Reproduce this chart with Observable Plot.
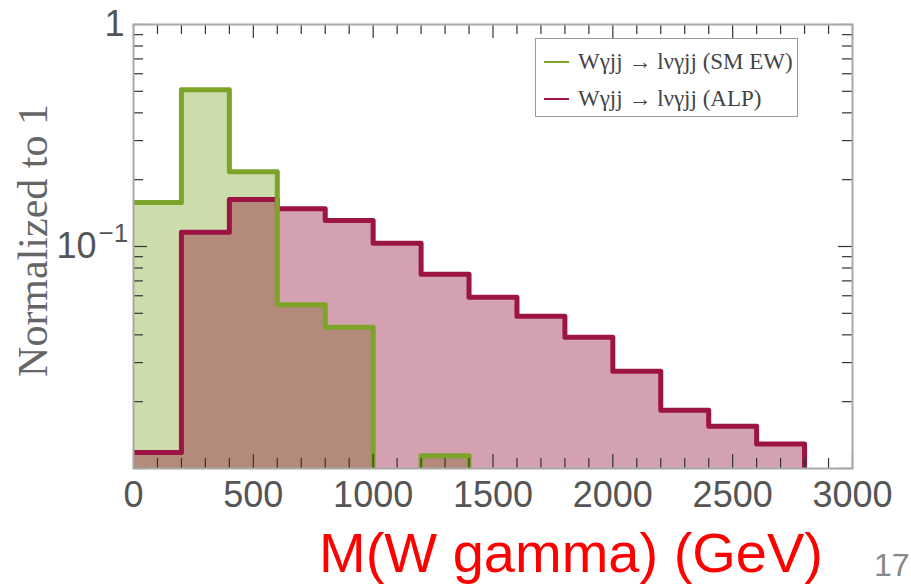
<!DOCTYPE html>
<html>
<head>
<meta charset="utf-8">
<script src="https://cdn.jsdelivr.net/npm/d3@7"></script>
<script src="https://cdn.jsdelivr.net/npm/@observablehq/plot@0.6"></script>
<style>
  html, body { margin: 0; padding: 0; background: #fff; }
  #wrap { position: relative; width: 911px; height: 586px; overflow: hidden; }
  #legend {
    position: absolute; left: 535px; top: 38px; width: 263px; height: 79px;
    border: 1.5px solid #9a9a9a; background: #fff; box-sizing: border-box;
    font-family: "Liberation Serif", serif; font-size: 23px; color: #444;
  }
  .row { position: absolute; left: 8px; height: 30px; display: flex; align-items: center; white-space: nowrap; }
  .sw { width: 25px; height: 2.5px; margin-right: 9px; }
</style>
</head>
<body>
<div id="wrap">
  <div id="chart"></div>
  <div id="legend"></div>
</div>
<script>
// ---- data ----
const binEdges = [0, 200, 400, 600, 800, 1000, 1200, 1400, 1600, 1800, 2000, 2200, 2400, 2600, 2800, 3000];
const smEW = [0.158, 0.508, 0.217, 0.0546, 0.0433, 0, 0.0114, 0, 0, 0, 0, 0, 0, 0, 0];
const alp  = [0.0118, 0.116, 0.163, 0.148, 0.131, 0.1035, 0.075, 0.0591, 0.0485, 0.039, 0.0274, 0.0183, 0.0155, 0.0129, 0];
const seriesNames = ["Wγjj → lνγjj (SM EW)", "Wγjj → lνγjj (ALP)"];
const xTickLabels = [0, 500, 1000, 1500, 2000, 2500, 3000];
const xMinorTicks = d3.range(0, 3001, 100);
const yMajorTicks = [0.01, 0.1, 1];
const yMinorTicks = [0.02, 0.03, 0.04, 0.05, 0.06, 0.07, 0.08, 0.09, 0.2, 0.3, 0.4, 0.5, 0.6, 0.7, 0.8, 0.9];
const xTitle = "M(W gamma) (GeV)";
const yTitle = "Normalized to 1";
const pageNumber = "17";

// ---- layout / style ----
const W = 911, H = 586;
const mT = 24, mR = 59, mB = 118, mL = 133;
const fw = W - mL - mR, fh = H - mT - mB;
const FLOOR = 0.001;
const greenLine = "#7ca428", greenFill = "#cddcab";
const redLine = "#9b1444", redFillBase = "rgb(139,0,41)";
const sans = "'Liberation Sans', Arial, sans-serif";
const serif = "'Liberation Serif', 'Times New Roman', serif";

const steps = vals => binEdges.map((x, i) => {
  const v = i < vals.length ? vals[i] : vals[vals.length - 1];
  return {x, y: v > 0 ? v : FLOOR};
});
const smPts = steps(smEW), alpPts = steps(alp);

const majorX = xMinorTicks.filter(d => d % 500 === 0);
const minorX = xMinorTicks.filter(d => d % 500 !== 0);

const chart = Plot.plot({
  width: W, height: H,
  marginTop: mT, marginRight: mR, marginBottom: mB, marginLeft: mL,
  x: {domain: [0, 3000], axis: null},
  y: {type: "log", domain: [0.01, 1], axis: null},
  style: {background: "#fff"},
  marks: [
    Plot.areaY(smPts, {x: "x", y1: FLOOR, y2: "y", curve: "step-after", fill: greenFill, clip: true}),
    Plot.areaY(alpPts, {x: "x", y1: FLOOR, y2: "y", curve: "step-after", fill: redFillBase, fillOpacity: 0.37, clip: true}),
    Plot.line(alpPts, {x: "x", y: "y", curve: "step-after", stroke: redLine, strokeWidth: 5, clip: true}),
    Plot.line(smPts, {x: "x", y: "y", curve: "step-after", stroke: greenLine, strokeWidth: 5, clip: true}),
    // ticks (inward)
    Plot.ruleX(minorX, {x: d => d, stroke: "#333", strokeWidth: 1.2, insetTop: fh - 10}),
    Plot.ruleX(majorX, {x: d => d, stroke: "#333", strokeWidth: 1.2, insetTop: fh - 14}),
    Plot.ruleX(minorX, {x: d => d, stroke: "#333", strokeWidth: 1.2, insetBottom: fh - 10}),
    Plot.ruleX(majorX, {x: d => d, stroke: "#333", strokeWidth: 1.2, insetBottom: fh - 14}),
    Plot.ruleY(yMinorTicks, {y: d => d, stroke: "#333", strokeWidth: 1.2, insetRight: fw - 10}),
    Plot.ruleY(yMajorTicks, {y: d => d, stroke: "#333", strokeWidth: 1.2, insetRight: fw - 14}),
    Plot.ruleY(yMinorTicks, {y: d => d, stroke: "#333", strokeWidth: 1.2, insetLeft: fw - 10}),
    Plot.ruleY(yMajorTicks, {y: d => d, stroke: "#333", strokeWidth: 1.2, insetLeft: fw - 14}),
    Plot.frame({stroke: "#a8a8a8", strokeWidth: 2}),
    // x tick labels
    Plot.text(xTickLabels, {x: d => d, frameAnchor: "bottom", dy: 27, lineAnchor: "middle",
      text: d => String(d), fontSize: 36, fill: "#555", fontFamily: sans}),
    // y tick labels
    Plot.text([1], {y: d => d, frameAnchor: "left", dx: -9, textAnchor: "end", lineAnchor: "middle",
      text: d => "1", fontSize: 36, fill: "#555", fontFamily: sans}),
    Plot.text([0.1], {y: d => d, frameAnchor: "left", dx: -37, textAnchor: "end", lineAnchor: "middle",
      text: d => "10", fontSize: 36, fill: "#555", fontFamily: sans}),
    Plot.text([0.1], {y: d => d, frameAnchor: "left", dx: -35, dy: -13, textAnchor: "start", lineAnchor: "middle",
      text: d => "\u22121", fontSize: 26, fill: "#555", fontFamily: sans}),
    // axis titles
    Plot.text([yTitle], {frameAnchor: "left", dx: -100, dy: -6, rotate: -90, textAnchor: "middle", lineAnchor: "middle",
      text: d => d, fontSize: 42, fill: "#666", fontFamily: serif}),
    Plot.text([xTitle], {frameAnchor: "bottom", dx: 78, dy: 86, textAnchor: "middle", lineAnchor: "middle",
      text: d => d, fontSize: 56, fill: "#f00", fontFamily: sans}),
    Plot.text([pageNumber], {frameAnchor: "bottom-right", dx: 57, dy: 97, textAnchor: "end", lineAnchor: "middle",
      text: d => d, fontSize: 32, fill: "#888", fontFamily: sans})
  ]
});
document.getElementById("chart").appendChild(chart);

// legend
const legend = document.getElementById("legend");
[[seriesNames[0], greenLine, 8], [seriesNames[1], redLine, 45]].forEach(([name, color, top]) => {
  const row = document.createElement("div");
  row.className = "row";
  row.style.top = top + "px";
  const sw = document.createElement("span");
  sw.className = "sw";
  sw.style.background = color;
  const t = document.createElement("span");
  t.textContent = name;
  row.appendChild(sw); row.appendChild(t);
  legend.appendChild(row);
});
</script>
</body>
</html>
